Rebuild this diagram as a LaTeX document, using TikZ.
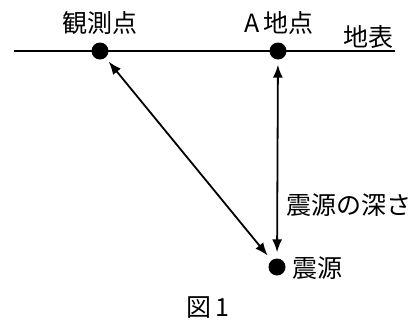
\documentclass[tikz,border=0pt]{standalone}
\usepackage{fontspec}
\setmainfont{Noto Sans CJK JP}
\usetikzlibrary{arrows.meta}
\begin{document}
\begin{tikzpicture}[x=1pt,y=-1pt,
  dot/.style={circle,fill=black,inner sep=0pt,minimum size=17pt},
  lbl/.style={inner sep=0pt,font=\fontsize{25}{27}\selectfont},
  arr/.style={line width=1.8pt,{Latex[length=13pt,width=10pt]}-{Latex[length=13pt,width=10pt]}}]
\useasboundingbox (0,0) rectangle (417,325);
\coordinate (L) at (14,51);
\coordinate (R) at (395,51);
\draw[line width=2.2pt] (L) -- (R);
\node[dot] (obs) at (100,51) {};
\node[dot] (A) at (278,51) {};
\node[dot] (hypo) at (277,267) {};
\draw[arr,shorten <=5pt,shorten >=6pt] (obs) -- (hypo);
\draw[arr,shorten <=5pt,shorten >=6pt] (A) -- (hypo);
\node[lbl] (tobs) at (100,23) {観測点};
\node[lbl] (tA) at (279,23) {A\,地点};
\node[lbl] (tsurf) at (368,37) {地表};
\node[lbl] (tdepth) at (349,205) {震源の深さ};
\node[lbl] (thypo) at (317,268) {震源};
\node[lbl] (tfig) at (208,308) {図\,1};
\end{tikzpicture}
\end{document}
